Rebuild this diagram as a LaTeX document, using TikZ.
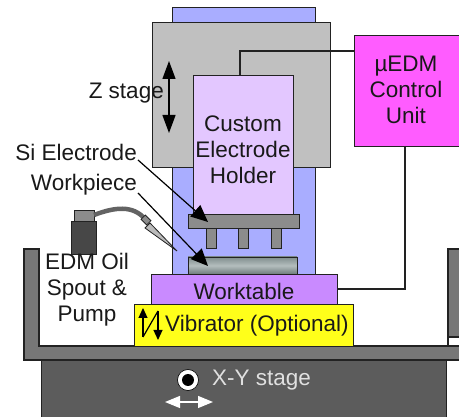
\documentclass[tikz,border=0pt]{standalone}
\usepackage{fontspec}
\setmainfont{Liberation Sans}
\usetikzlibrary{arrows.meta}
\definecolor{bluecol}{HTML}{A9ADFF}
\definecolor{zgray}{HTML}{C0C0C0}
\definecolor{holder}{HTML}{E3C7FF}
\definecolor{ctrl}{HTML}{FF5CFF}
\definecolor{table}{HTML}{C98AFF}
\definecolor{vib}{HTML}{FFFF1A}
\definecolor{plate}{HTML}{8C8C8C}
\definecolor{tray}{HTML}{777777}
\definecolor{stage}{HTML}{5C5C5C}
\definecolor{pump}{HTML}{474747}
\definecolor{edge}{HTML}{222222}
\definecolor{worktop}{HTML}{7F8C8C}
\definecolor{workmid}{HTML}{B4BEBE}
\definecolor{workbot}{HTML}{6F7C7C}
\tikzset{
  box/.style={draw=edge,line width=1.3pt,rectangle,inner sep=0pt,anchor=north west},
  lbl/.style={font=\fontsize{22.5}{26}\selectfont,align=center,text=black!90,inner sep=0pt},
  wire/.style={draw=edge,line width=1.3pt},
  pointer/.style={draw=black,line width=1.2pt,-{Triangle[length=17pt,width=15pt]}},
  dbl/.style={draw=black,line width=1.3pt,{Triangle[length=18pt,width=13pt]}-{Triangle[length=18pt,width=13pt]}},
  small/.style={draw=black,line width=1.2pt,-{Triangle[length=10pt,width=9pt]}}
}
\begin{document}
\begin{tikzpicture}[x=1pt,y=-1pt]
\useasboundingbox (0,0) rectangle (459,417);
\path[fill=white] (0,0) rectangle (459,417);
% column
\node[box,fill=bluecol,minimum width=143pt,minimum height=267pt] (column) at (172,7) {};
% Z stage
\node[box,fill=zgray,minimum width=178pt,minimum height=145pt] (zstage) at (152,22) {};
% control
\node[box,fill=ctrl,minimum width=108pt,minimum height=111pt] (ctrlbox) at (354,35) {};
\node[lbl] (ctrltxt) at (406,90) {µEDM\\Control\\Unit};
% holder
\node[box,fill=holder,minimum width=100pt,minimum height=139pt] (holderbox) at (193,75) {};
\node[lbl] (holdertxt) at (243,150) {Custom\\Electrode\\Holder};
% wires
\coordinate (w1) at (240,51);
\coordinate (w2) at (240,75);
\coordinate (w3) at (354,51);
\draw[wire] (w3) -- (w1) -- (w2);
\coordinate (w4) at (405,146);
\coordinate (w5) at (405,289);
\coordinate (w6) at (337,289);
\draw[wire] (w4) -- (w5) -- (w6);
% electrode
\node[box,fill=plate,minimum width=111pt,minimum height=14pt] (elec) at (188,214) {};
\node[box,fill=plate,minimum width=10pt,minimum height=20pt] (pin1) at (206,228) {};
\node[box,fill=plate,minimum width=10pt,minimum height=20pt] (pin2) at (238,228) {};
\node[box,fill=plate,minimum width=10pt,minimum height=20pt] (pin3) at (271,228) {};
% workpiece
\shade[top color=worktop,bottom color=workbot,middle color=workmid] (188,257) rectangle (297,274);
\node[box,minimum width=109pt,minimum height=17pt] (work) at (188,257) {};
% tray
\path[fill=tray,draw=edge,line width=1.3pt] (24,249) -- (39,249) -- (39,346) -- (448,346) -- (461,346) -- (461,360) -- (24,360) -- cycle;
\path[fill=tray,draw=edge,line width=1.3pt] (448,346) -- (448,249) -- (461,249) -- (461,337) -- (448,337);
% table, vibrator
\node[box,fill=table,minimum width=186pt,minimum height=30pt] (tablebox) at (151,274) {};
\node[lbl] at (244,291) {Worktable};
\node[box,fill=vib,minimum width=219pt,minimum height=42pt] (vibbox) at (134,304) {};
\node[lbl,anchor=west] at (165,326) {Vibrator (Optional)};
\coordinate (v1) at (143,308); \coordinate (v2) at (143,337);
\coordinate (v3) at (158,311); \coordinate (v4) at (158,340);
\draw[small] (v2) -- (v1);
\draw[small] (v3) -- (v4);
\draw[draw=black,line width=1.2pt] (v2) -- (v3);
% stage
\node[box,fill=stage,minimum width=405pt,minimum height=58pt] (stagebox) at (41,360) {};
\node[lbl,text=white!88!black,anchor=west] at (212,380) {X-Y stage};
\node[circle,fill=white,draw=black,line width=.6pt,minimum size=21pt,inner sep=0pt] (axis) at (188,380) {};
\node[circle,fill=black,minimum size=12pt,inner sep=0pt] (axisin) at (188,380) {};
\coordinate (a1) at (165,402); \coordinate (a2) at (213,402);
\draw[draw=white,line width=1.2pt,{Triangle[length=15pt,width=12pt,fill=white]}-{Triangle[length=15pt,width=12pt,fill=white]}] (a1) -- (a2);
% pump
\node[box,fill=pump,minimum width=25pt,minimum height=33pt] (pumpbody) at (71,221) {};
\node[box,fill=plate,minimum width=20pt,minimum height=11pt] (pumphead) at (74,210) {};
\draw[line width=4.5pt,draw=pump!85!white] (94,215) .. controls (115,207) and (133,205) .. (145,219);
\draw[draw=edge,fill=plate,line width=.8pt,rotate around={45:(146,220)}] (143,216) rectangle (149,224);
\draw[draw=edge,fill=plate!60!white,line width=.8pt] (150,223) -- (177,251) -- (145,228) -- cycle;
% labels
\node[lbl] at (87,290) {EDM Oil\\Spout \&\\Pump};
\node[lbl,anchor=east] at (164,93) {Z stage};
\node[lbl,anchor=east] at (137,152) {Si Electrode};
\node[lbl,anchor=east] at (137,185) {Workpiece};
\coordinate (z1) at (169,61); \coordinate (z2) at (169,133);
\draw[dbl] (z1) -- (z2);
\coordinate (p1) at (138,160); \coordinate (p2) at (208,222);
\coordinate (p3) at (138,193); \coordinate (p4) at (208,266);
\draw[pointer] (p1) -- (p2);
\draw[pointer] (p3) -- (p4);
\end{tikzpicture}
\end{document}
